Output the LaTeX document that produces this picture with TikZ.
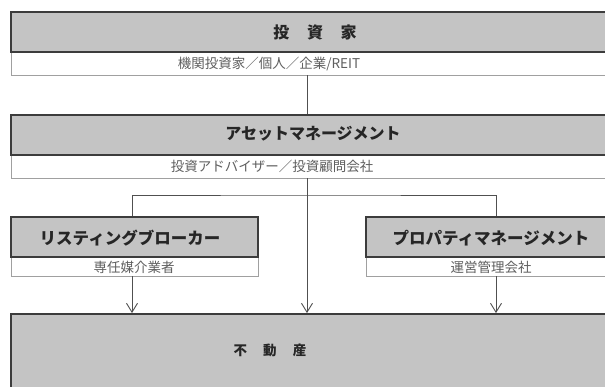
\documentclass[tikz,border=0pt]{standalone}
\usepackage{fontspec}
\newfontfamily\jp{Noto Sans CJK JP}
\newfontfamily\jpb{Noto Sans CJK JP}[BoldFont=*,FakeBold=0]
\usetikzlibrary{arrows.meta}
\definecolor{boxgray}{RGB}{196,196,196}
\definecolor{edge}{RGB}{60,60,60}
\definecolor{subedge}{RGB}{160,160,160}
\definecolor{subtext}{RGB}{95,95,95}
\definecolor{conn}{RGB}{80,80,80}
\tikzset{
  graybox/.style={draw=edge, line width=1.8pt, fill=boxgray, rectangle, inner sep=0pt},
  subbox/.style={draw=subedge, line width=0.8pt, fill=white, rectangle, inner sep=0pt},
  headtext/.style={font=\jp\bfseries\fontsize{16}{16}\selectfont, text=black!85, inner sep=0pt},
  smalltext/.style={font=\jp\fontsize{13.5}{14}\selectfont, text=subtext, inner sep=0pt},
  link/.style={draw=conn, line width=0.9pt},
  arrowlink/.style={link, -{Straight Barb[length=9pt,width=11pt,line width=0.9pt]}}
}
\begin{document}
\begin{tikzpicture}[x=1pt,y=-1pt]
\useasboundingbox (0,0) rectangle (605,387);
\fill[white] (0,0) rectangle (605,387);
% investor
\node[subbox, minimum width=604pt, minimum height=23pt] (invsub) at (313,63.5) {};
\node[graybox, minimum width=604pt, minimum height=40pt] (inv) at (313,32) {};
\node[headtext] (invt) at (315,32) {投\hspace{1.1em}資\hspace{1.1em}家};
\node[smalltext] (invst) at (269,64) {機関投資家／個人／企業/REIT};
% asset management
\node[subbox, minimum width=604pt, minimum height=23pt] (amsub) at (313,166.5) {};
\node[graybox, minimum width=604pt, minimum height=40pt] (am) at (313,135) {};
\node[headtext] (amt) at (313,134) {アセットマネージメント};
\node[smalltext] (amst) at (272,166) {投資アドバイザー／投資顧問会社};
% listing broker
\node[subbox, minimum width=247pt, minimum height=19pt] (lbsub) at (134.5,266.5) {};
\node[graybox, minimum width=247pt, minimum height=40pt] (lb) at (134.5,237) {};
\node[headtext, font=\jp\bfseries\fontsize{16.5}{16.5}\selectfont] (lbt) at (130,238) {リスティングブローカー};
\node[smalltext] (lbst) at (134,267) {専任媒介業者};
% property management
\node[subbox, minimum width=249pt, minimum height=19pt] (rbsub) at (490.5,266.5) {};
\node[graybox, minimum width=249pt, minimum height=40pt] (rb) at (490.5,237) {};
\node[headtext, font=\jp\bfseries\fontsize{16.5}{16.5}\selectfont] (rbt) at (491,238) {プロパティマネージメント};
\node[smalltext] (rbst) at (491,267) {運営管理会社};
% real estate
\node[graybox, minimum width=604pt, minimum height=86pt] (re) at (313,357) {};
\node[headtext, font=\jp\bfseries\fontsize{13.5}{13.5}\selectfont] (ret) at (270,350) {不\hspace{1.2em}動\hspace{1.2em}産};
% connectors
\coordinate (trunk) at (307,0);
\coordinate (lx) at (132,0);
\coordinate (rx) at (496,0);
\coordinate (branch) at (307,195);
\draw[link] (invsub.south -| trunk) -- (am.north -| trunk);
\draw[arrowlink] (amsub.south -| trunk) -- (re.north -| trunk);
\draw[link] (lb.north -| lx) |- (branch) -| (rb.north -| rx);
\draw[arrowlink] (lbsub.south -| lx) -- (re.north -| lx);
\draw[arrowlink] (rbsub.south -| rx) -- (re.north -| rx);
\end{tikzpicture}
\end{document}
